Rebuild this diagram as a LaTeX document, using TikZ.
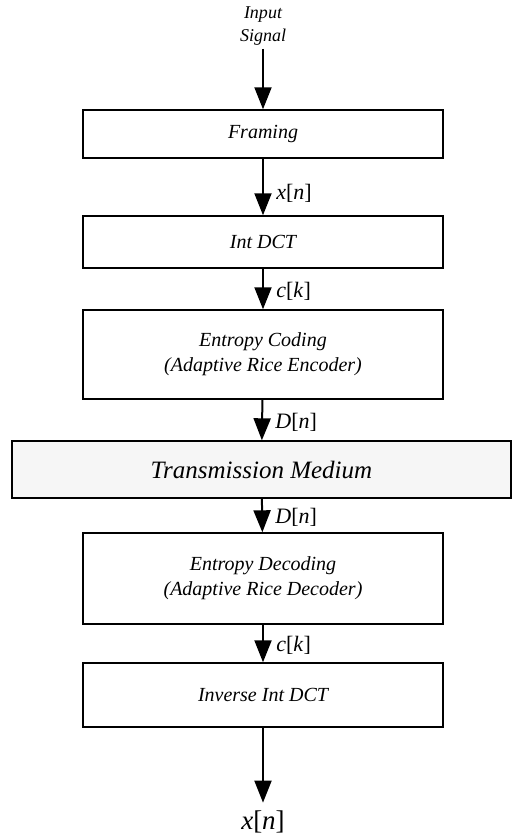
\documentclass[tikz,border=0pt]{standalone}
\usepackage{fontspec}
\setmainfont{Liberation Serif}
\usetikzlibrary{arrows.meta}
\tikzset{
  block/.style={draw, line width=1.4pt, minimum width=360pt, inner sep=0pt,
    align=center, font=\fontsize{20}{25}\selectfont\itshape},
  flow/.style={line width=2pt, -{Triangle[length=22pt, width=17pt]}},
  sig/.style={right=9pt, pos=0.56, font=\fontsize{22}{24}\selectfont}
}

\begin{document}
\begin{tikzpicture}[x=1pt, y=-1pt]
    \useasboundingbox (0,0) rectangle (511,834);

    % Blocks in a column
    \node[align=center, font=\fontsize{18}{23}\selectfont\itshape] (In) at (263,26) {Input\\Signal};
    \node[block, minimum height=48pt] (Frm) at (263,134) {Framing};
    \node[block, minimum height=52pt] (Dct) at (263,242) {Int DCT};
    \node[block, minimum height=89pt] (Enc) at (263,354.5) {Entropy Coding\\(Adaptive Rice Encoder)};
    \node[block, minimum width=499pt, minimum height=57pt, fill=gray!7,
          font=\fontsize{25}{30}\selectfont\itshape] (Med) at (261.5,469.5) {Transmission Medium};
    \node[block, minimum height=91pt] (Dec) at (263,578.5) {Entropy Decoding\\(Adaptive Rice Decoder)};
    \node[block, minimum height=64pt] (Inv) at (263,695) {Inverse Int DCT};
    \node[font=\fontsize{27}{30}\selectfont, inner sep=1pt] (Out) at (263,822) {\textit{x}[\textit{n}]};

    % Signal flow
    \draw[flow] (In) -- (Frm);
    \draw[flow] (Frm) -- node[sig, pos=0.62] {\textit{x}[\textit{n}]} (Dct);
    \draw[flow] (Dct) -- node[sig] {\textit{c}[\textit{k}]} (Enc);
    \draw[flow] (Enc) -- node[sig] {\textit{D}[\textit{n}]} (Med);
    \draw[flow] (Med) -- node[sig] {\textit{D}[\textit{n}]} (Dec);
    \draw[flow] (Dec) -- node[sig] {\textit{c}[\textit{k}]} (Inv);
    \draw[flow, shorten >=7pt] (Inv) -- (Out);

\end{tikzpicture}
\end{document}
